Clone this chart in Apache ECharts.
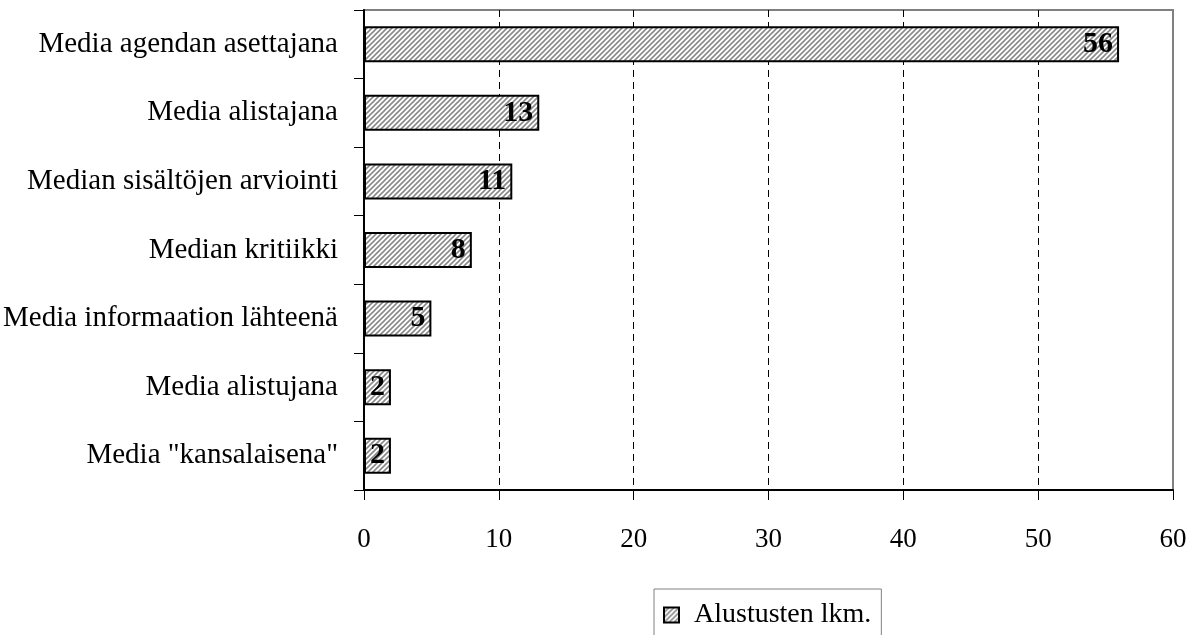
<!DOCTYPE html>
<html>
<head>
<meta charset="utf-8">
<script src="https://cdn.jsdelivr.net/npm/echarts@6/dist/echarts.min.js"></script>
<style>html,body{margin:0;padding:0;background:#fff;}#c{width:1200px;height:635px;}</style>
</head>
<body>
<div id="c"></div>
<script>
const categories = ['Media agendan asettajana','Media alistajana','Median sisältöjen arviointi','Median kritiikki','Media informaation lähteenä','Media alistujana','Media "kansalaisena"'];
const values = [56, 13, 11, 8, 5, 2, 2];
const seriesName = 'Alustusten lkm.';
const xTicks = [0, 10, 20, 30, 40, 50, 60];

function makeHatch() {
  const s = 5;
  const cv = document.createElement('canvas');
  cv.width = s; cv.height = s;
  const ctx = cv.getContext('2d');
  ctx.fillStyle = '#ffffff';
  ctx.fillRect(0, 0, s, s);
  ctx.strokeStyle = '#8a8a8a';
  ctx.lineWidth = 1.6;
  ctx.beginPath();
  ctx.moveTo(-1, s + 1); ctx.lineTo(s + 1, -1);
  ctx.moveTo(-1, 1); ctx.lineTo(1, -1);
  ctx.moveTo(s - 1, s + 1); ctx.lineTo(s + 1, s - 1);
  ctx.stroke();
  return cv;
}
const hatch = { image: makeHatch(), repeat: 'repeat' };
const font = '"Liberation Serif", "Times New Roman", serif';

const chart = echarts.init(document.getElementById('c'), null, { renderer: 'canvas' });
chart.setOption({
  animation: false,
  grid: { left: 363, right: 27, top: 10, bottom: 145, show: true, borderColor: '#808080', borderWidth: 2, containLabel: false },
  xAxis: {
    type: 'value', min: xTicks[0], max: xTicks[xTicks.length - 1], interval: 10,
    axisLine: { show: true, lineStyle: { color: '#000', width: 2 } },
    axisTick: { show: true, length: 10, lineStyle: { color: '#000', width: 1 } },
    axisLabel: { color: '#000', fontFamily: font, fontSize: 27, margin: 36 },
    splitLine: { show: true, lineStyle: { color: ['transparent', '#000', '#000', '#000', '#000', '#000', 'transparent'], type: [7, 5], width: 1 } }
  },
  yAxis: {
    type: 'category', data: categories, inverse: true,
    axisLine: { show: true, lineStyle: { color: '#000', width: 2 } },
    axisTick: { show: true, length: 10, alignWithLabel: false, lineStyle: { color: '#000', width: 1 } },
    axisLabel: { color: '#000', fontFamily: font, fontSize: 29, margin: 26 },
    splitLine: { show: false }
  },
  legend: {
    show: true, left: 654, top: 589,
    data: [seriesName],
    orient: 'horizontal',
    borderColor: '#808080', borderWidth: 1, padding: [12, 10, 14, 9],
    itemWidth: 15, itemHeight: 15, itemGap: 6,
    icon: 'rect',
    textStyle: { color: '#000', fontFamily: font, fontSize: 28, padding: [0, 0, 0, 10] }
  },
  series: [{
    name: seriesName, type: 'bar', data: values, barWidth: 36,
    itemStyle: { color: hatch, borderColor: '#000', borderWidth: 2 },
    label: { show: true, position: 'insideRight', distance: 6, color: '#000', fontFamily: font, fontSize: 30, fontWeight: 'bold' }
  }]
});
</script>
</body>
</html>
